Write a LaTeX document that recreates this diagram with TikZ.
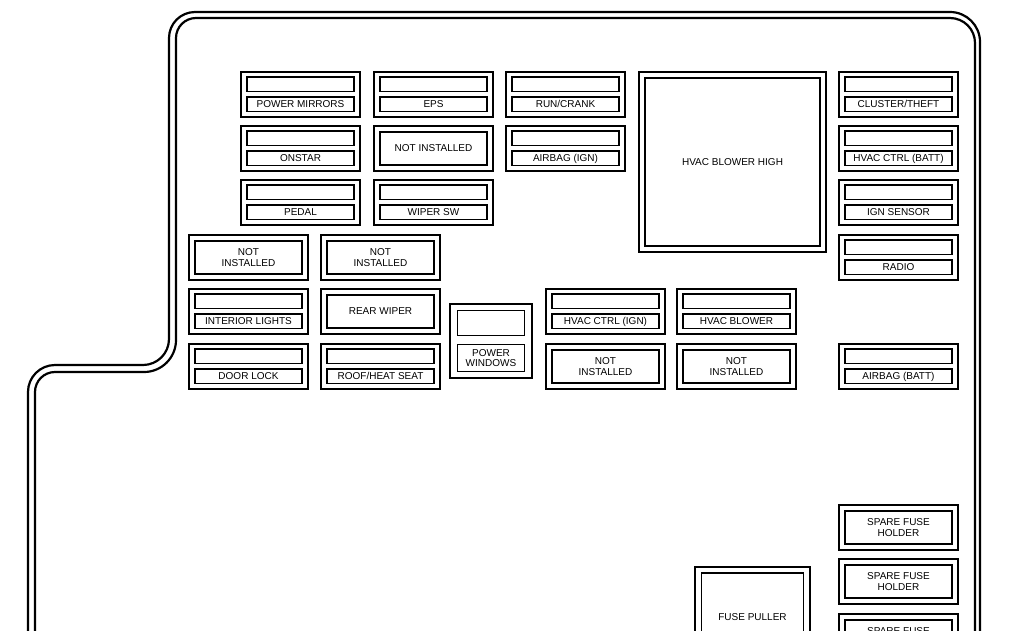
\documentclass[tikz,border=0pt]{standalone}
\usepackage{fontspec}
\setmainfont{Liberation Sans}
\usetikzlibrary{positioning}

\begin{document}
\begin{tikzpicture}[
  x=1pt,
  y=-1pt,
  boardline/.style={
    line width=2.2pt
    },
  fuseouter/.style={
    draw,
    line width=2.8pt,
    anchor=north west,
    outer sep=0pt,
    xshift=1pt,
    yshift=-1pt,
    minimum width=119pt,
    minimum height=45pt
    },
  fuseinner/.style={
    draw,
    line width=1.9pt,
    outer sep=0pt,
    inner sep=0pt,
    align=center,
    text depth=0pt,
    font=\fontsize{10}{11}\selectfont,
    minimum width=107pt,
    minimum height=14.5pt
    }
]

\clip (0,0) rectangle (1024,630);

\draw[boardline] (28,640) [rounded corners=27pt] -- (28,365) [rounded corners=26pt] -- (169,365) -- (169,12) [rounded corners=30pt] -- (980,12) [sharp corners] -- (980,640);
\draw[boardline] (35,640) [rounded corners=20pt] -- (35,372) [rounded corners=32pt] -- (176,372) [rounded corners=20pt] -- (176,18) [rounded corners=25pt] -- (975,18) [sharp corners] -- (975,640);

\foreach \x/\y/\txt in {240/71/POWER MIRRORS, 373/71/EPS, 505/71/{RUN/CRANK}, 838/71/{CLUSTER/THEFT},
    240/125/ONSTAR, 505/125/AIRBAG (IGN), 838/125/HVAC CTRL (BATT),
    240/179/PEDAL, 373/179/WIPER SW, 838/179/IGN SENSOR, 838/234/RADIO,
    188/288/INTERIOR LIGHTS, 188/343/DOOR LOCK, 320/343/{ROOF/HEAT SEAT},
    545/288/HVAC CTRL (IGN), 676/288/HVAC BLOWER, 838/343/AIRBAG (BATT)} {
    \node [fuseouter] (box\x\y) at (\x,\y) {};
    \node [fuseinner, below=5pt of box\x\y.north] (win\x\y) {};
    \node [fuseinner, above=5.5pt of box\x\y.south] (lab\x\y) {\txt};
}

\foreach \x/\y/\txt in {373/125/NOT INSTALLED, 188/234/NOT\\INSTALLED, 320/234/NOT\\INSTALLED,
    320/288/REAR WIPER, 545/343/NOT\\INSTALLED, 676/343/NOT\\INSTALLED,
    838/504/SPARE FUSE\\HOLDER, 838/558/SPARE FUSE\\HOLDER, 838/613/SPARE FUSE\\HOLDER} {
    \node [fuseouter] (box\x\y) at (\x,\y) {};
    \node [fuseinner, minimum height=33pt] (lab\x\y) at (box\x\y.center) {\txt};
}

\node [fuseouter, minimum width=82pt, minimum height=74pt] (boxpower) at (449,303) {};
\node [fuseinner, minimum width=67pt, minimum height=25pt, below=6.5pt of boxpower.north] (winpower) {};
\node [fuseinner, minimum width=67pt, minimum height=27pt, above=6.5pt of boxpower.south] (labpower) {POWER\\[-0.5pt]WINDOWS};

\node [fuseouter, minimum width=187pt, minimum height=180pt] (boxblower) at (638,71) {};
\node [fuseinner, minimum width=175pt, minimum height=168pt] (labblower) at (boxblower.center) {HVAC BLOWER HIGH};

\node [fuseouter, minimum width=115pt, minimum height=100pt] (boxpuller) at (694,566) {};
\node [fuseinner, minimum width=102pt, minimum height=88pt] (labpuller) at (boxpuller.center) {FUSE PULLER};
\end{tikzpicture}
\end{document}
